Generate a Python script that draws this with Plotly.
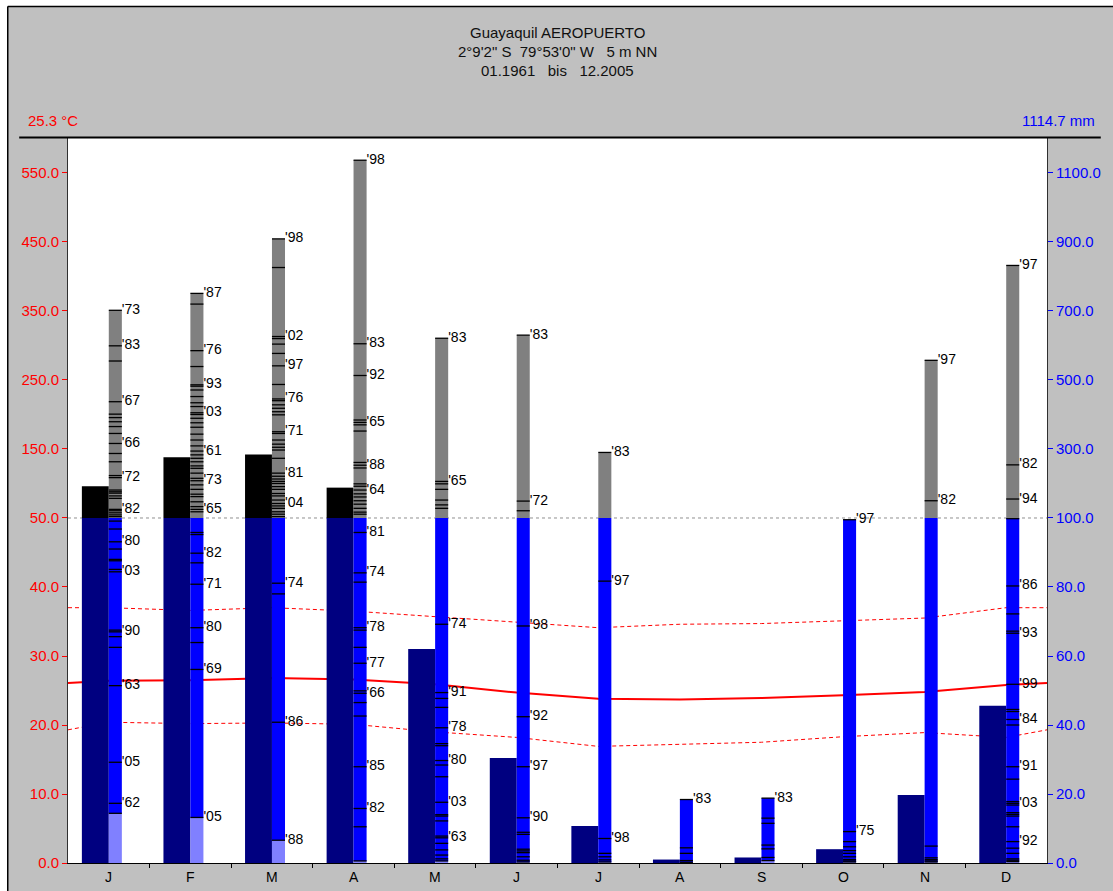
import plotly.graph_objects as go

# ---------------------------------------------------------------- data
months = ["J", "F", "M", "A", "M", "J", "J", "A", "S", "O", "N", "D"]

# mean monthly precipitation (mm)
precip_mean = [192.0, 276.0, 283.7, 188.0, 62.0, 30.4, 10.7, 1.0, 1.6, 4.0, 19.7, 45.6]

# temperature (°C): monthly mean, upper and lower extremes
temp_mean = [26.4, 26.5, 26.8, 26.6, 25.9, 24.7, 23.8, 23.7, 23.9, 24.3, 24.8, 25.8]
temp_upper = [37.0, 36.6, 37.0, 36.5, 35.7, 34.8, 34.1, 34.6, 34.7, 35.1, 35.5, 37.0]
temp_lower = [20.4, 20.2, 20.3, 20.1, 19.0, 18.2, 16.9, 17.2, 17.5, 18.3, 18.9, 18.2]

# single-year monthly totals (mm) that carry a year tag
year_tags = [
    [("73", 702), ("83", 599), ("67", 437), ("66", 316), ("72", 217), ("82", 125),
     ("80", 93.1), ("03", 84.4), ("90", 67.0), ("63", 51.4), ("05", 29.2), ("62", 17.3)],
    [("87", 751), ("76", 585), ("93", 486), ("03", 405), ("61", 294), ("73", 208),
     ("65", 125), ("82", 89.8), ("71", 80.8), ("80", 68.2), ("69", 56.1), ("05", 13.2)],
    [("98", 909), ("02", 626), ("97", 541), ("76", 445), ("71", 350), ("81", 230),
     ("04", 142), ("74", 81.1), ("86", 40.8), ("88", 6.6)],
    [("98", 1137), ("83", 605), ("92", 513), ("65", 377), ("88", 253), ("64", 181),
     ("81", 95.8), ("74", 84.1), ("78", 68.2), ("77", 57.9), ("66", 49.2), ("85", 27.9),
     ("82", 15.8)],
    [("83", 621), ("65", 206), ("74", 69.2), ("91", 49.4), ("78", 39.2), ("80", 29.7),
     ("03", 17.6), ("63", 7.3)],
    [("83", 630), ("72", 149), ("98", 68.7), ("92", 42.4), ("97", 27.9), ("90", 13.1)],
    [("83", 290), ("97", 81.7), ("98", 7.1)],
    [("83", 18.4)],
    [("83", 18.8)],
    [("97", 99.5), ("75", 9.1)],
    [("97", 557), ("82", 150)],
    [("97", 832), ("82", 254), ("94", 155), ("86", 80.3), ("93", 66.6), ("99", 51.8),
     ("84", 41.6), ("91", 27.9), ("03", 17.3), ("92", 6.2)],
]

# remaining single-year monthly totals (mm), drawn as untagged ticks
year_ticks = [
    [555, 401, 391, 379, 365, 345, 287, 263, 223, 181, 176, 172, 164, 157, 121, 115,
     109, 104, 99.1, 96.8, 91.0, 88.0, 87.6, 85.1, 67.5, 65.6, 62.5, 14.4],
    [720, 539, 482, 471, 452, 434, 423, 400, 389, 376, 363, 343, 326, 309, 283, 273,
     263, 251, 244, 230, 215, 196, 183, 169, 162, 147, 133, 118, 95.8, 95.2, 87.0, 63.9],
    [826, 620, 604, 577, 487, 440, 428, 418, 408, 399, 345, 326, 314, 305, 297, 273,
     221, 213, 206, 200, 191, 183, 171, 164, 152, 135, 128, 118, 111, 104, 78.0],
    [384, 370, 352, 261, 245, 199, 192, 170, 161, 150, 140, 128, 117, 111, 81.4, 67.5,
     62.5, 49.9, 46.5, 42.6, 10.5, 0.6],
    [199, 183, 152, 138, 128, 47.7, 45.1, 34.6, 34.0, 28.4, 25.0, 14.0, 13.6, 12.2,
     7.8, 5.7, 3.8, 2.3, 1.2, 0.6],
    [121, 8.9, 8.3, 4.0, 3.5, 3.0, 1.8, 0.8, 0.3],
    [2.8, 1.8, 0.9, 0.3],
    [4.4, 2.8, 0.7, 0.2],
    [13.0, 11.5, 5.2, 4.1, 1.6, 0.7],
    [6.2, 4.7, 3.6, 2.8, 1.8, 1.0, 0.6, 0.3],
    [4.9, 1.5, 1.0, 0.6, 0.3],
    [99.8, 72.2, 67.2, 44.5, 43.9, 40.0, 24.3, 17.8, 16.8, 14.6, 14.1, 13.6, 10.5,
     4.3, 2.8, 1.2, 0.8, 0.4],
]

station = "Guayaquil AEROPUERTO"
position = "2°9'2\" S  79°53'0\" W   5 m NN"
period = "01.1961   bis   12.2005"

left_ticks = ["0.0", "10.0", "20.0", "30.0", "40.0", "50.0",
              "150.0", "250.0", "350.0", "450.0", "550.0"]
right_ticks = ["0.0", "20.0", "40.0", "60.0", "80.0", "100.0",
               "300.0", "500.0", "700.0", "900.0", "1100.0"]

# ---------------------------------------------------------------- scales
SPLIT = 100.0          # mm; above this the precipitation scale is compressed 1:10
TOP = 210.14           # top of the plotting range in scaled mm


def scale(mm):
    return mm if mm <= SPLIT else SPLIT + (mm - SPLIT) / 10.0


def t_scale(deg):
    return 2.0 * deg   # 10 °C  <->  20 mm


FONT = "Liberation Sans, Arial, sans-serif"
RED = "#FF0000"
BLUE = "#0000FF"
NAVY = "#000080"
W_MEAN = 0.33          # width of the mean-precipitation bar
W_COL = 0.16           # width of the single-year column

n = len(months)
idx = list(range(n))

fig = go.Figure()

# ---------------------------------------------------------------- temperature curves (lower layer)
edge = lambda s: (s[0] + s[-1]) / 2.0
tx = [-0.5] + idx + [n - 0.5]

fig.add_trace(go.Scatter(
    x=[-0.5, n - 0.5], y=[SPLIT, SPLIT], mode="lines",
    line=dict(color="#909090", width=1, dash="3px,3px"),
    xaxis="x", yaxis="y", hoverinfo="skip"))

for series, width, dash in ((temp_upper, 1, "4px,3px"),
                            (temp_lower, 1, "4px,3px"),
                            (temp_mean, 2, "solid")):
    ty = [edge(series)] + list(series) + [edge(series)]
    fig.add_trace(go.Scatter(
        x=tx, y=[t_scale(v) for v in ty], mode="lines",
        line=dict(color=RED, width=width, dash=dash),
        xaxis="x", yaxis="y", hoverinfo="skip"))

# ---------------------------------------------------------------- mean precipitation bars
fig.add_trace(go.Bar(
    x=idx, y=[scale(min(p, SPLIT)) for p in precip_mean], base=0,
    width=W_MEAN, offset=-W_MEAN, marker=dict(color=NAVY, line=dict(width=0)),
    xaxis="x", yaxis="y2", hoverinfo="skip"))
fig.add_trace(go.Bar(
    x=idx, y=[scale(p) - SPLIT if p > SPLIT else 0 for p in precip_mean], base=SPLIT,
    width=W_MEAN, offset=-W_MEAN, marker=dict(color="#000000", line=dict(width=0)),
    xaxis="x", yaxis="y2", hoverinfo="skip"))

# ---------------------------------------------------------------- single-year columns
all_years = [[v for _, v in tags] + list(ticks) for tags, ticks in zip(year_tags, year_ticks)]
col_min = [min(v) for v in all_years]
col_max = [max(v) for v in all_years]

fig.add_trace(go.Bar(
    x=idx, y=[scale(m) for m in col_min], base=0,
    width=W_COL, offset=0, marker=dict(color="#8080FF", line=dict(width=0)),
    xaxis="x", yaxis="y2", hoverinfo="skip"))
fig.add_trace(go.Bar(
    x=idx, y=[scale(min(mx, SPLIT)) - scale(mn) for mn, mx in zip(col_min, col_max)],
    base=[scale(m) for m in col_min],
    width=W_COL, offset=0, marker=dict(color=BLUE, line=dict(width=0)),
    xaxis="x", yaxis="y2", hoverinfo="skip"))
fig.add_trace(go.Bar(
    x=idx, y=[scale(mx) - SPLIT if mx > SPLIT else 0 for mx in col_max], base=SPLIT,
    width=W_COL, offset=0, marker=dict(color="#808080", line=dict(width=0)),
    xaxis="x", yaxis="y2", hoverinfo="skip"))

# year ticks across each column
tick_x, tick_y = [], []
for i, values in enumerate(all_years):
    for v in values:
        tick_x += [i, i + W_COL, None]
        tick_y += [scale(v), scale(v), None]
fig.add_trace(go.Scatter(
    x=tick_x, y=tick_y, mode="lines", line=dict(color="#000000", width=1.3),
    xaxis="x", yaxis="y2", hoverinfo="skip"))

# year tags
lab_x, lab_y, lab_t = [], [], []
for i, tags in enumerate(year_tags):
    for yy, v in tags:
        lab_x.append(i + W_COL)
        lab_y.append(scale(v))
        lab_t.append("'" + yy)
fig.add_trace(go.Scatter(
    x=lab_x, y=lab_y, text=lab_t, mode="text", textposition="middle right",
    textfont=dict(family=FONT, size=14, color="#000000"),
    xaxis="x", yaxis="y2", hoverinfo="skip"))

# ---------------------------------------------------------------- layout
W, H = 1113, 891
L, R, T, B = 68, 62, 138, 28
pw, ph = W - L - R, H - T - B


def px(x):
    return (x - L) / pw


def py(y):
    return (H - B - y) / ph


tickvals = [0, 20, 40, 60, 80, 100, 120, 140, 160, 180, 200]

annotations = [
    dict(text=station, x=0.5, y=py(33)),
    dict(text=position.replace(" ", "\u00a0"), x=0.5, y=py(52)),
    dict(text=period.replace(" ", "\u00a0"), x=0.5, y=py(71)),
]
for a in annotations:
    a.update(xref="paper", yref="paper", xanchor="center", yanchor="middle",
             showarrow=False, font=dict(family=FONT, size=15, color="#101010"))

annual_t = sum(temp_mean) / len(temp_mean)
annual_p = sum(precip_mean)
annotations.append(dict(
    text=f"{annual_t:.1f}\u00a0°C", x=px(26), y=py(120), xref="paper", yref="paper",
    xanchor="left", yanchor="middle", showarrow=False,
    font=dict(family=FONT, size=15, color=RED)))
annotations.append(dict(
    text=f"{annual_p:.1f}\u00a0mm", x=px(1101), y=py(120), xref="paper", yref="paper",
    xanchor="right", yanchor="middle", showarrow=False,
    font=dict(family=FONT, size=15, color=BLUE)))
for i, m in enumerate(months):
    annotations.append(dict(
        text=m, x=i, y=py(877), xref="x", yref="paper", xanchor="center",
        yanchor="middle", showarrow=False, font=dict(family=FONT, size=14, color="#000000")))

shapes = [
    # white margin outside the frame
    dict(type="rect", xref="paper", yref="paper", x0=px(-5), x1=px(7), y0=py(900), y1=py(-5),
         fillcolor="white", line=dict(width=0), layer="above"),
    dict(type="rect", xref="paper", yref="paper", x0=px(-5), x1=px(1120), y0=py(6), y1=py(-5),
         fillcolor="white", line=dict(width=0), layer="above"),
    # frame lines
    dict(type="line", xref="paper", yref="paper", x0=px(7.5), x1=px(1120), y0=py(6.5), y1=py(6.5),
         line=dict(color="#000000", width=1.5)),
    dict(type="line", xref="paper", yref="paper", x0=px(7.5), x1=px(7.5), y0=py(6.5), y1=py(900),
         line=dict(color="#000000", width=1.5)),
    # heavy rule above the plot
    dict(type="line", xref="paper", yref="paper", x0=px(19), x1=px(1105), y0=py(137.5), y1=py(137.5),
         line=dict(color="#000000", width=2.2)),
]

fig.update_layout(
    width=W, height=H,
    margin=dict(l=L, r=R, t=T, b=B, pad=0),
    paper_bgcolor="#C0C0C0", plot_bgcolor="#FFFFFF",
    showlegend=False, barmode="overlay", hovermode=False,
    font=dict(family=FONT, size=15),
    xaxis=dict(range=[-0.5, n - 0.5], tickvals=[i + 0.5 for i in range(n - 1)],
               showticklabels=False, ticks="outside", ticklen=4, tickcolor="#000000",
               showgrid=False, zeroline=False, showline=True, linecolor="#000000",
               linewidth=1, fixedrange=True),
    yaxis=dict(range=[0, TOP], tickvals=tickvals, ticktext=left_ticks,
               ticks="outside", ticklen=5, tickcolor=RED, tickfont=dict(color=RED, size=15),
               showgrid=False, zeroline=False, showline=True, linecolor="#303030",
               linewidth=1, fixedrange=True),
    yaxis2=dict(range=[0, TOP], overlaying="y", side="right", tickvals=tickvals,
                ticktext=right_ticks, ticks="outside", ticklen=5, tickcolor=BLUE,
                tickfont=dict(color=BLUE, size=15), showgrid=False, zeroline=False,
                showline=True, linecolor="#303030", linewidth=1, fixedrange=True),
    annotations=annotations,
    shapes=shapes,
)

fig.write_html("out.html")
